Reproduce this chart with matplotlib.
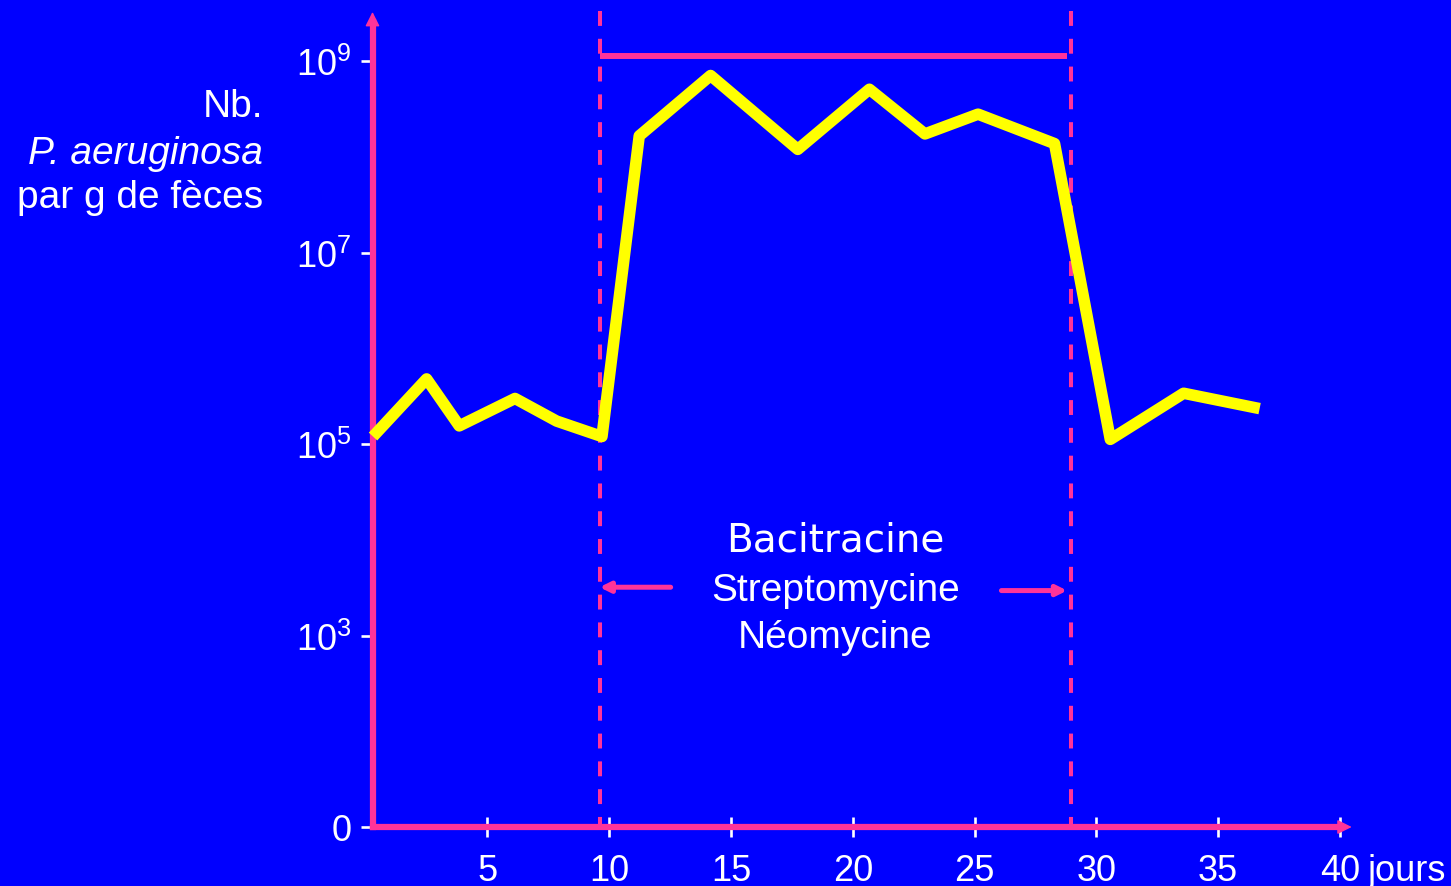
import matplotlib.pyplot as plt
from matplotlib.ticker import NullLocator

# data (days, bacteria per g of faeces)
days = [0.3, 2.5, 3.84, 6.13, 7.84, 9.7, 11.23, 14.16, 17.74, 20.68,
        22.96, 25.14, 28.28, 30.57, 33.58, 36.7]
counts = [1.2e5, 4.8e5, 1.55e5, 3.0e5, 1.74e5, 1.2e5, 1.66e8, 7.1e8,
          1.2e8, 5.1e8, 1.74e8, 2.8e8, 1.38e8, 1.12e5, 3.4e5, 2.35e5]

x_ticks = [5, 10, 15, 20, 25, 30, 35, 40]
x_labels = ["5", "10", "15", "20", "25", "30", "35", "40"]
y_ticks = [1e1, 1e3, 1e5, 1e7, 1e9]
y_labels = ["0", r"$\mathregular{10^3}$", r"$\mathregular{10^5}$",
            r"$\mathregular{10^7}$", r"$\mathregular{10^9}$"]

treat_start = 9.6
treat_end = 28.95
treat_bar_end = 28.8
treat_level = 1.135e9
antibiotics = ["Bacitracine", "Streptomycine", "Néomycine"]

BLUE = "#0000FF"
PINK = "#FF3399"
YELLOW = "#FFFF00"

plt.rcParams["font.family"] = ["Liberation Sans", "DejaVu Sans"]
plt.rcParams["mathtext.fontset"] = "custom"
plt.rcParams["mathtext.rm"] = "Liberation Sans"

W, H = 1451, 887
fig = plt.figure(figsize=(W / 100, H / 100), dpi=100, facecolor=BLUE)
ax = fig.add_axes([372.5 / W, 1 - 828 / H, (1340 - 372.5) / W, (828 - 23) / H])
ax.set_facecolor(BLUE)
ax.set_yscale("log")
ax.set_xlim((372.5 - 365.7) / 24.37, (1340 - 365.7) / 24.37)
ax.set_ylim(1e1, 10 ** 9.41)
ax.yaxis.set_minor_locator(NullLocator())
ax.xaxis.set_minor_locator(NullLocator())

for s in ["top", "right"]:
    ax.spines[s].set_visible(False)
for s in ["left", "bottom"]:
    ax.spines[s].set_color(PINK)
    ax.spines[s].set_linewidth(4.5)

ax.set_xticks(x_ticks, x_labels)
ax.set_yticks(y_ticks, y_labels)
ax.tick_params(axis="x", direction="inout", length=14, width=1.9, color="white",
               labelcolor="white", labelsize=26, pad=12)
ax.tick_params(axis="y", direction="out", length=8.3, width=1.9, color="white",
               labelcolor="white", labelsize=26, pad=6.7)

ax.annotate("jours", xy=(40, 0), xycoords=("data", "axes fraction"),
            xytext=(20, -19), textcoords="offset points", ha="left", va="top",
            fontsize=26, color="white", annotation_clip=False)

# axis arrowheads
ax.annotate("", xy=(1.0121, 0), xycoords="axes fraction", xytext=(0.998, 0),
            arrowprops=dict(arrowstyle="-|>", color=PINK, lw=1, mutation_scale=22,
                            shrinkA=0, shrinkB=0), annotation_clip=False)
ax.annotate("", xy=(0, 1.0125), xycoords="axes fraction", xytext=(0, 0.998),
            arrowprops=dict(arrowstyle="-|>", color=PINK, lw=1, mutation_scale=22,
                            shrinkA=0, shrinkB=0), annotation_clip=False)

# treatment period
for x in [treat_start, treat_end]:
    ax.plot([x, x], [10 ** 9.52, 10], color=PINK, lw=2.9, ls=(0, (3.7, 3.2)),
            clip_on=False, zorder=3)
ax.plot([treat_start, treat_bar_end], [treat_level, treat_level], color=PINK,
        lw=4.3, solid_capstyle="butt", zorder=3)

ax.plot(days, counts, color=YELLOW, lw=8.3, solid_joinstyle="round",
        solid_capstyle="butt", clip_on=False, zorder=5)

mid = (treat_start + treat_end) / 2
ax.text(mid, 10 ** 3.888, antibiotics[0], ha="center", va="baseline",
        fontsize=28, color="white", family="DejaVu Sans")
ax.text(mid, 10 ** 3.374, antibiotics[1], ha="center", va="baseline",
        fontsize=28, color="white")
ax.text(mid, 10 ** 2.881, antibiotics[2], ha="center", va="baseline",
        fontsize=28, color="white")

ax.annotate("", xy=(treat_start, 10 ** 3.505), xytext=(12.52, 10 ** 3.505),
            arrowprops=dict(arrowstyle="-|>", color=PINK, lw=3.6, mutation_scale=15,
                            shrinkA=0, shrinkB=0))
ax.annotate("", xy=(treat_bar_end, 10 ** 3.47), xytext=(26.1, 10 ** 3.47),
            arrowprops=dict(arrowstyle="-|>", color=PINK, lw=3.6, mutation_scale=15,
                            shrinkA=0, shrinkB=0))

# y axis title
fig.text(263.3 / W, 1 - 116.7 / H, "Nb.", ha="right", va="baseline",
         fontsize=28, color="white")
fig.text(263.3 / W, 1 - 164 / H, "P. aeruginosa", ha="right", va="baseline",
         fontsize=28, color="white", style="italic")
fig.text(263.3 / W, 1 - 208.3 / H, "par g de fèces", ha="right", va="baseline",
         fontsize=28, color="white")

fig.savefig("out.png", dpi=100, facecolor=BLUE)
